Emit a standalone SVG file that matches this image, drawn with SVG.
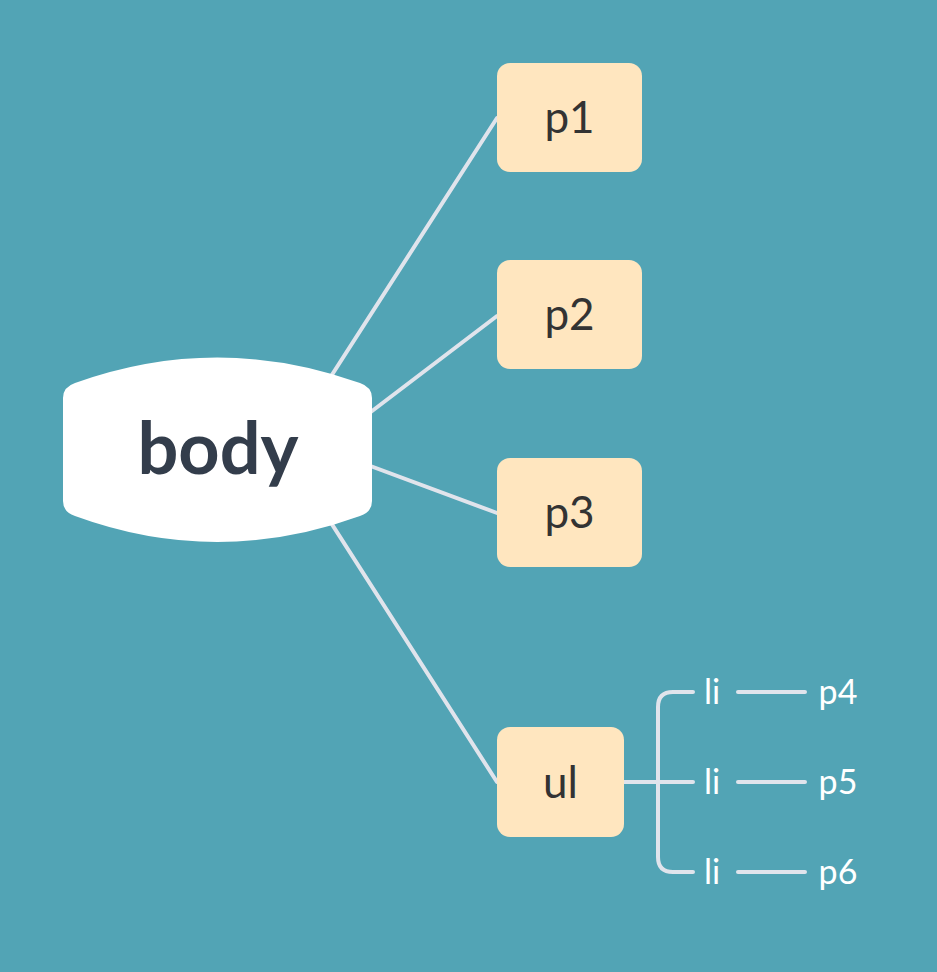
<svg xmlns="http://www.w3.org/2000/svg" width="937" height="972" viewBox="0 0 937 972">
<style>
.bg{fill:#52a4b5}
.conn{stroke:#e0e4ec;stroke-width:4;fill:none;stroke-linecap:round;stroke-linejoin:round}
.box{fill:#ffe6bf}
.lbl{font-family:Lato,"Open Sans","Liberation Sans",sans-serif;fill:#333333;text-anchor:middle}
.small{font-family:Lato,"Open Sans","Liberation Sans",sans-serif;fill:#ffffff;font-size:34px;text-anchor:middle}
</style>
<rect class="bg" x="0" y="0" width="937" height="972"/>
<g id="connectors">
<line class="conn" x1="310" y1="409" x2="497" y2="118"/>
<line class="conn" x1="330" y1="443" x2="497" y2="316"/>
<line class="conn" x1="330" y1="451" x2="497" y2="513"/>
<line class="conn" x1="310" y1="490" x2="497" y2="782"/>
<line class="conn" x1="624" y1="782" x2="693" y2="782"/>
<path class="conn" d="M693 692 L673 692 Q658 692 658 707 L658 857 Q658 872 673 872 L693 872"/>
<line class="conn" x1="738" y1="692" x2="805" y2="692"/>
<line class="conn" x1="738" y1="782" x2="805" y2="782"/>
<line class="conn" x1="738" y1="872" x2="805" y2="872"/>
</g>
<g id="body">
<path fill="#ffffff" d="M63 398 Q63 387 75 383 Q217 332 360 383 Q372 387 372 398 L372 501 Q372 512 360 516 Q217 568 75 516 Q63 512 63 501 Z"/>
<text class="lbl" x="218" y="474" font-size="72" font-weight="bold" style="fill:#333d4b">body</text>
</g>
<g id="p1">
<rect class="box" x="497" y="63" width="145" height="109" rx="13"/>
<text class="lbl" x="569.5" y="133" font-size="44">p1</text>
</g>
<g id="p2">
<rect class="box" x="497" y="260" width="145" height="109" rx="13"/>
<text class="lbl" x="569.5" y="330" font-size="44">p2</text>
</g>
<g id="p3">
<rect class="box" x="497" y="458" width="145" height="109" rx="13"/>
<text class="lbl" x="569.5" y="528" font-size="44">p3</text>
</g>
<g id="ul">
<rect class="box" x="497" y="727" width="127" height="110" rx="13"/>
<text class="lbl" x="560.5" y="798" font-size="44">ul</text>
</g>
<g id="li1"><text class="small" x="712" y="704">li</text></g>
<g id="li2"><text class="small" x="712" y="794">li</text></g>
<g id="li3"><text class="small" x="712" y="884">li</text></g>
<g id="p4"><text class="small" x="838" y="704">p4</text></g>
<g id="p5"><text class="small" x="838" y="794">p5</text></g>
<g id="p6"><text class="small" x="838" y="884">p6</text></g>
</svg>
